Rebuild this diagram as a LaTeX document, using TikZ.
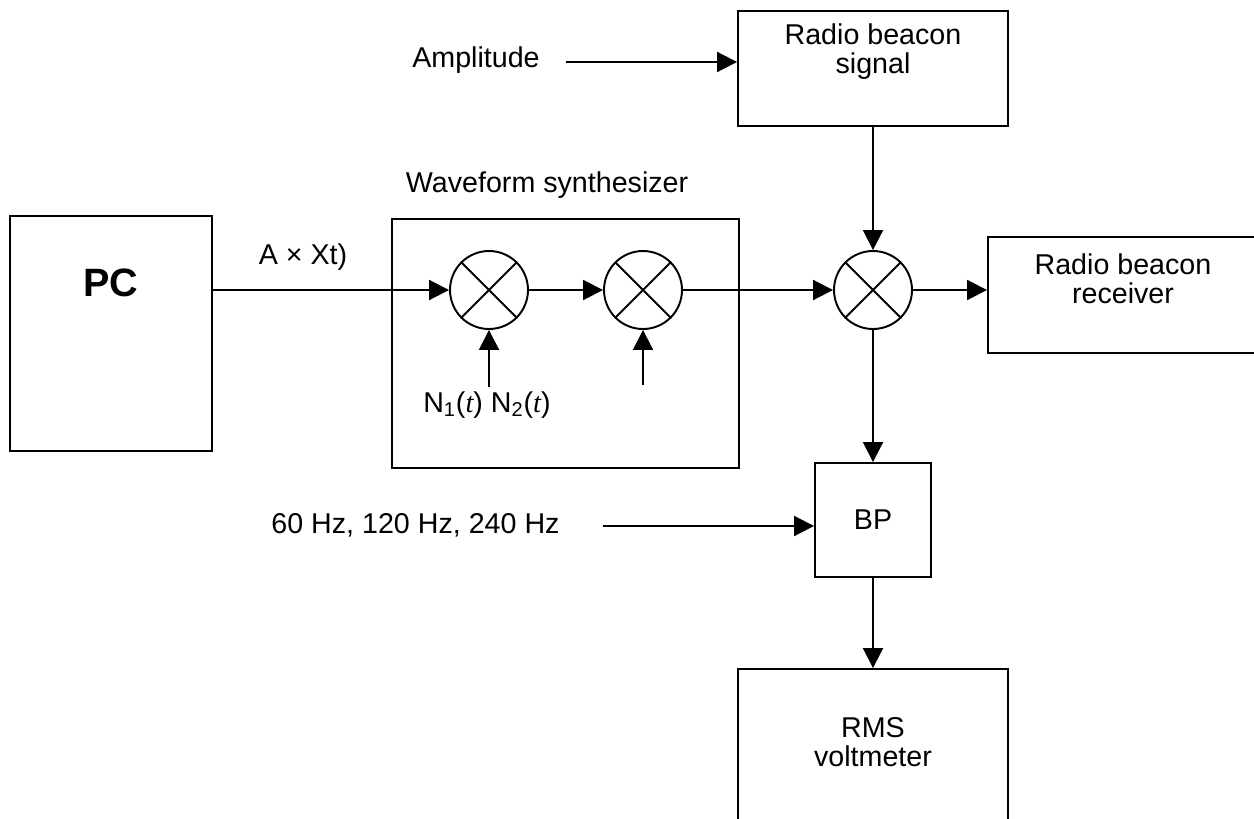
\documentclass[tikz,border=0pt]{standalone}
\usepackage{fontspec}
\setmainfont{Liberation Sans}
\newfontfamily\timesfont{Liberation Serif}
\usetikzlibrary{arrows.meta}

\begin{document}
\begin{tikzpicture}[x=0.02cm, y=-0.02cm, line width=1.1pt,
		font=\fontsize{16.3}{16.5}\selectfont,
		block/.style={draw, rectangle, inner sep=0pt},
		mixer/.style={draw, circle, minimum size=1.56cm, inner sep=0pt},
		txt/.style={align=center, inner sep=0pt},
		arr/.style={-{Triangle[length=0.4cm, width=0.4cm]}}]
		\useasboundingbox (0,0) rectangle (1254,818);
		\clip (0,0) rectangle (1254,818);
		
		% Blocks
		\node[block, minimum width=4.04cm, minimum height=4.7cm] (pc) at (111,333.5) {};
		\node[txt, font=\fontsize{22.5}{24}\selectfont\bfseries] (pctext) at (111,283) {PC};
		\node[block, minimum width=6.94cm, minimum height=4.98cm] (synth) at (565.5,343.5) {};
		\node[txt, anchor=west] (synthlabel) at (405,185) {Waveform synthesizer};
		\node[block, minimum width=5.4cm, minimum height=2.3cm] (sig) at (873,68.5) {};
		\node[txt] (sigtext) at (873,52) {Radio beacon\\signal};
		\node[block, minimum width=5.4cm, minimum height=2.32cm] (recv) at (1123,295) {};
		\node[txt] (recvtext) at (1123,279) {Radio beacon\\receiver};
		\node[block, minimum width=2.32cm, minimum height=2.28cm] (bp) at (873,520) {BP};
		\node[block, minimum width=5.4cm, minimum height=4cm] (rms) at (873,769) {};
		\node[txt] (rmstext) at (873,742) {RMS\\voltmeter};
		
		% Mixers
		\node[mixer] (mixA) at (489,290) {};
		\node[mixer] (mixB) at (643,290) {};
		\node[mixer] (mixC) at (873,290) {};
		\foreach \m in {mixA,mixB,mixC}
			\draw (\m.north east) -- (\m.south west) (\m.north west) -- (\m.south east);
		
		% Input labels
		\node[txt] (amp) at (476,60) {Amplitude};
		\node[txt] (hz) at (415.5,525) {60 Hz, 120 Hz, 240 Hz};
		\node[txt] (ax) at (303,257) {A × Xt)};
		\node[txt] (nlabel) at (487,405) {N\textsubscript{1}({\timesfont\itshape t}) N\textsubscript{2}({\timesfont\itshape t})};
		\coordinate (ampin) at (566,62);
		\coordinate (hzin) at (603,526);
		\coordinate (nA) at (489,387);
		\coordinate (nB) at (643,385);
		
		% Signal path
		\draw[arr] (ampin) -- (ampin -| sig.west);
		\draw[arr] (pc.east |- mixA) -- (mixA.west);
		\draw[arr] (mixA) -- (mixB);
		\draw[arr] (mixB) -- (mixC);
		\draw[arr] (nA) -- (mixA.south);
		\draw[arr] (nB) -- (mixB.south);
		\draw[arr] (sig.south) -- (mixC.north);
		\draw[arr] (mixC.east) -- (mixC.east -| recv.west);
		\draw[arr] (mixC.south) -- (bp.north);
		\draw[arr] (hzin) -- (hzin -| bp.west);
		\draw[arr] (bp.south) -- (rms.north);
		
	\end{tikzpicture}
\end{document}
